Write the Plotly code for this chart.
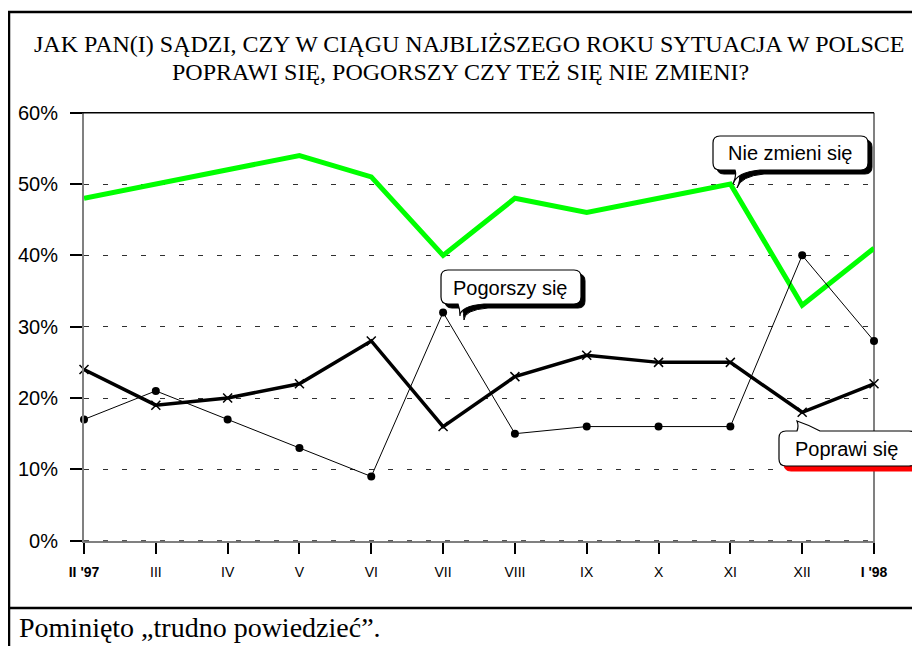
import plotly.graph_objects as go

# ---- data ----
categories = ["II '97", "III", "IV", "V", "VI", "VII", "VIII", "IX", "X", "XI", "XII", "I '98"]
tick_labels = ["<b>II '97</b>", "III", "IV", "V", "VI", "VII", "VIII", "IX", "X", "XI", "XII", "<b>I '98</b>"]
nie_zmieni = [48, 50, 52, 54, 51, 40, 48, 46, 48, 50, 33, 41]
poprawi = [24, 19, 20, 22, 28, 16, 23, 26, 25, 25, 18, 22]
pogorszy = [17, 21, 17, 13, 9, 32, 15, 16, 16, 16, 40, 28]
y_ticks = [0, 10, 20, 30, 40, 50, 60]
y_tick_labels = ["0%", "10%", "20%", "30%", "40%", "50%", "60%"]

# page has an 8px body margin; work in page pixels and convert
OFF = 8
W, H = 912, 638
PL, PR, PT, PB = 84, 874, 112.7, 540.7


def px(x):
    return (x - OFF) / W


def py(y):
    return 1 - (y - OFF) / H


fig = go.Figure()

fig.add_trace(go.Scatter(x=categories, y=nie_zmieni, mode="lines", name="Nie zmieni się",
                         line=dict(color="#00FF00", width=5), cliponaxis=False))
fig.add_trace(go.Scatter(x=categories, y=pogorszy, mode="lines+markers", name="Pogorszy się",
                         line=dict(color="black", width=1),
                         marker=dict(symbol="circle", size=8, color="black"), cliponaxis=False))
fig.add_trace(go.Scatter(x=categories, y=poprawi, mode="lines+markers", name="Poprawi się",
                         line=dict(color="black", width=3.5),
                         marker=dict(symbol="x-thin", size=9, color="black",
                                     line=dict(color="black", width=1.5)), cliponaxis=False))

shapes = []
# outer frame lines
shapes.append(dict(type="line", xref="paper", yref="paper", x0=px(8), x1=px(921), y0=py(12), y1=py(12),
                   line=dict(color="black", width=2.5)))
shapes.append(dict(type="line", xref="paper", yref="paper", x0=px(9), x1=px(9), y0=py(11), y1=py(647),
                   line=dict(color="black", width=2.5)))
shapes.append(dict(type="line", xref="paper", yref="paper", x0=px(8), x1=px(921), y0=py(608), y1=py(608),
                   line=dict(color="black", width=2.5)))
# plot top border (60%) and right border
shapes.append(dict(type="line", xref="paper", yref="paper", x0=px(72), x1=px(PR), y0=py(PT), y1=py(PT),
                   line=dict(color="black", width=1.5)))
shapes.append(dict(type="line", xref="paper", yref="paper", x0=px(PR), x1=px(PR), y0=py(PT), y1=py(552),
                   line=dict(color="#808080", width=2), layer="below"))
# dashed overlay on 0% axis
shapes.append(dict(type="line", xref="paper", yref="paper", x0=px(PL), x1=px(PR), y0=py(PB), y1=py(PB),
                   line=dict(color="#303030", width=1, dash="5px,14px")))


def P(x, y):
    return f"{px(x):.5f},{py(y):.5f}"


def callout_bottom(x0, y0, x1, y1, r, a, b, tip, dx=0, dy=0):
    x0 += dx; x1 += dx; a += dx; b += dx
    y0 += dy; y1 += dy
    tx, ty = tip[0] + dx, tip[1] + dy
    d = [
        "M", P(x0 + r, y0), "L", P(x1 - r, y0), "Q", P(x1, y0), P(x1, y0 + r),
        "L", P(x1, y1 - r), "Q", P(x1, y1), P(x1 - r, y1),
        "L", P(b, y1), "Q", P(a + 2, y1 + 2), P(tx, ty),
        "Q", P(a + 2, y1 + 5), P(a, y1),
        "L", P(x0 + r, y1), "Q", P(x0, y1), P(x0, y1 - r),
        "L", P(x0, y0 + r), "Q", P(x0, y0), P(x0 + r, y0), "Z",
    ]
    return " ".join(d)


def callout_top(x0, y0, x1, y1, r, a, b, tip, dx=0, dy=0):
    x0 += dx; x1 += dx; a += dx; b += dx
    y0 += dy; y1 += dy
    tx, ty = tip[0] + dx, tip[1] + dy
    d = [
        "M", P(x0 + r, y0), "L", P(a, y0),
        "Q", P(a + 2, y0 - 5), P(tx, ty),
        "Q", P(a + 12, y0 - 6), P(b, y0),
        "L", P(x1 - r, y0), "Q", P(x1, y0), P(x1, y0 + r),
        "L", P(x1, y1 - r), "Q", P(x1, y1), P(x1 - r, y1),
        "L", P(x0 + r, y1), "Q", P(x0, y1), P(x0, y1 - r),
        "L", P(x0, y0 + r), "Q", P(x0, y0), P(x0 + r, y0), "Z",
    ]
    return " ".join(d)


callouts = [
    (callout_bottom, (441, 270, 581, 304), 7, 458, 484, (460, 316), "black", (4, 4)),
    (callout_bottom, (713, 136, 868, 170), 7, 735, 760, (733, 184), "black", (4, 4)),
    (callout_top, (779, 431, 916, 466), 7, 797, 820, (797, 421), "#FF0000", (5, 5)),
]
for func, (x0, y0, x1, y1), r, a, b, tip, sc, (dx, dy) in callouts:
    shapes.append(dict(type="path", xref="paper", yref="paper",
                       path=func(x0, y0, x1, y1, r, a, b, tip, dx, dy),
                       fillcolor=sc, line=dict(color=sc, width=1)))
    shapes.append(dict(type="path", xref="paper", yref="paper",
                       path=func(x0, y0, x1, y1, r, a, b, tip),
                       fillcolor="white", line=dict(color="black", width=1.2)))

serif = "Liberation Serif, Times New Roman, serif"
sans = "Liberation Sans, Arial, sans-serif"
annotations = [
    dict(text="JAK PAN(I) SĄDZI, CZY W CIĄGU NAJBLIŻSZEGO ROKU SYTUACJA W POLSCE",
         x=px(469), y=py(44), xref="paper", yref="paper", showarrow=False,
         xanchor="center", yanchor="middle", font=dict(family=serif, size=24, color="black")),
    dict(text="POPRAWI SIĘ, POGORSZY CZY TEŻ SIĘ NIE ZMIENI?",
         x=px(460), y=py(72), xref="paper", yref="paper", showarrow=False,
         xanchor="center", yanchor="middle", font=dict(family=serif, size=24, color="black")),
    dict(text="Pominięto „trudno powiedzieć”.",
         x=px(17), y=py(627), xref="paper", yref="paper", showarrow=False,
         xanchor="left", yanchor="middle", font=dict(family=serif, size=28, color="black")),
    dict(text="Pogorszy się", x=px(510), y=py(288), xref="paper", yref="paper", showarrow=False,
         xanchor="center", yanchor="middle", font=dict(family=sans, size=20, color="black")),
    dict(text="Nie zmieni się", x=px(790), y=py(153), xref="paper", yref="paper", showarrow=False,
         xanchor="center", yanchor="middle", font=dict(family=sans, size=20, color="black")),
    dict(text="Poprawi się", x=px(846), y=py(449), xref="paper", yref="paper", showarrow=False,
         xanchor="center", yanchor="middle", font=dict(family=sans, size=20, color="black")),
]

fig.update_layout(
    width=W, height=H,
    margin=dict(l=0, r=0, t=0, b=0),
    paper_bgcolor="white", plot_bgcolor="white",
    showlegend=False,
    shapes=shapes,
    annotations=annotations,
    xaxis=dict(
        domain=[px(PL), px(PR)],
        type="category",
        range=[0, len(categories) - 1],
        tickvals=categories, ticktext=tick_labels,
        showgrid=False, zeroline=False,
        showline=True, linecolor="#808080", linewidth=2,
        ticks="outside", ticklen=11, tickwidth=1.5, tickcolor="black",
        ticklabelstandoff=6,
        tickfont=dict(family=sans, size=14, color="black"),
        automargin=False, fixedrange=True,
    ),
    yaxis=dict(
        domain=[py(PB), py(PT)],
        range=[0, 60],
        tickvals=y_ticks, ticktext=y_tick_labels,
        showgrid=True, gridcolor="#303030", gridwidth=1, griddash="5px,14px",
        zeroline=False,
        showline=True, linecolor="#808080", linewidth=2,
        ticks="outside", ticklen=12, tickwidth=1.5, tickcolor="black",
        ticklabelstandoff=8,
        tickfont=dict(family=sans, size=20, color="black"),
        automargin=False, fixedrange=True,
    ),
)

fig.write_html("out.html")
